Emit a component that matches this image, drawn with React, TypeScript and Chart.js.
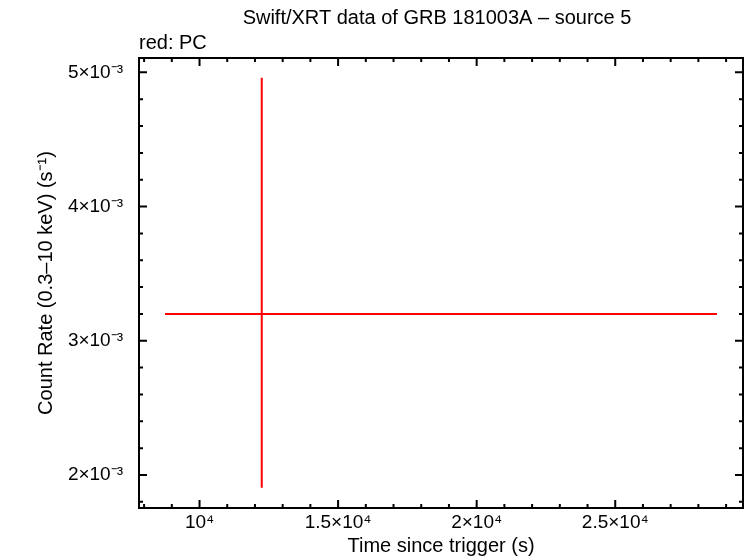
import React, { useEffect, useRef } from 'react';
import { Chart, registerables, Plugin } from 'chart.js';

Chart.register(...registerables);

const FONT = "'Liberation Sans', Arial, Helvetica, sans-serif";

const chartTitle = 'Swift/XRT data of GRB 181003A \u2013 source 5';
const modeLabel = 'red: PC';
const xTitle = 'Time since trigger (s)';
const yTitle = 'Count Rate (0.3\u201310 keV) (s\u207B\u00B9)';

// PC mode bins (time in s since trigger, rate in counts/s)
const times: number[] = [12245];
const timeErrNeg: number[] = [3490];
const timeErrPos: number[] = [16426];
const rates: number[] = [3.199e-3];
const rateErrNeg: number[] = [1.294e-3];
const rateErrPos: number[] = [1.761e-3];

const xMajorTicks: number[] = [10000, 15000, 20000, 25000];
const xTickLabels: string[] = ['10\u2074', '1.5\u00D710\u2074', '2\u00D710\u2074', '2.5\u00D710\u2074'];
const yMajorTicks: number[] = [2e-3, 3e-3, 4e-3, 5e-3];
const yTickLabels: string[] = ['2\u00D710\u207B\u00B3', '3\u00D710\u207B\u00B3', '4\u00D710\u207B\u00B3', '5\u00D710\u207B\u00B3'];

const X_MIN = 7816;
const X_MAX = 29610;
const Y_MIN = 1.754e-3;
const Y_MAX = 5.107e-3;
const X_MINOR = 1000;
const Y_MINOR = 2e-4;

// frame, inward ticks on all four sides, title and mode label
const framePlugin: Plugin = {
  id: 'frame',
  afterDatasetsDraw(chart) {
    const { ctx, chartArea: a, scales } = chart;
    const xs = scales.x;
    const ys = scales.y;
    ctx.save();
    ctx.strokeStyle = '#000';
    ctx.lineWidth = 2;
    ctx.beginPath();
    for (let k = Math.ceil(X_MIN / X_MINOR); k * X_MINOR <= X_MAX; k++) {
      const px = xs.getPixelForValue(k * X_MINOR);
      const len = k % 5 === 0 ? 8 : 4;
      ctx.moveTo(px, a.bottom);
      ctx.lineTo(px, a.bottom - len);
      ctx.moveTo(px, a.top);
      ctx.lineTo(px, a.top + len);
    }
    for (let k = Math.ceil(Y_MIN / Y_MINOR); k * Y_MINOR <= Y_MAX; k++) {
      const py = ys.getPixelForValue(k * Y_MINOR);
      const len = k % 5 === 0 ? 8 : 4;
      ctx.moveTo(a.left, py);
      ctx.lineTo(a.left + len, py);
      ctx.moveTo(a.right, py);
      ctx.lineTo(a.right - len, py);
    }
    ctx.stroke();
    ctx.strokeRect(a.left, a.top, a.right - a.left, a.bottom - a.top);

    ctx.fillStyle = '#000';
    ctx.font = `20px ${FONT}`;
    ctx.textBaseline = 'middle';
    ctx.textAlign = 'center';
    ctx.fillText(chartTitle, (a.left + a.right) / 2 - 4, 18);
    ctx.textAlign = 'left';
    ctx.fillText(modeLabel, a.left, 43);
    ctx.restore();
  },
};

export default function App() {
  const canvasRef = useRef<HTMLCanvasElement | null>(null);

  useEffect(() => {
    if (!canvasRef.current) return;

    const datasets: any[] = [];
    times.forEach((t, i) => {
      const r = rates[i];
      datasets.push({
        data: [
          { x: t - timeErrNeg[i], y: r },
          { x: t + timeErrPos[i], y: r },
        ],
      });
      datasets.push({
        data: [
          { x: t, y: r - rateErrNeg[i] },
          { x: t, y: r + rateErrPos[i] },
        ],
      });
    });
    datasets.forEach((d) => {
      d.showLine = true;
      d.pointRadius = 0;
      d.borderColor = '#ff0000';
      d.borderWidth = 2;
      d.fill = false;
    });

    const chart = new Chart(canvasRef.current, {
      type: 'scatter',
      data: { datasets },
      options: {
        animation: false,
        responsive: true,
        maintainAspectRatio: false,
        layout: { padding: { top: 58, right: 3, left: 0, bottom: 0 } },
        plugins: {
          legend: { display: false },
          tooltip: { enabled: false },
          title: { display: false },
        },
        scales: {
          x: {
            type: 'linear',
            min: X_MIN,
            max: X_MAX,
            grid: { display: false, drawTicks: false },
            border: { display: false },
            afterBuildTicks: (scale: any) => {
              scale.ticks = xMajorTicks.map((v) => ({ value: v }));
            },
            afterFit: (scale: any) => {
              scale.height = 50;
            },
            ticks: {
              autoSkip: false,
              maxRotation: 0,
              padding: 3,
              color: '#000',
              font: { family: FONT, size: 19 },
              callback: (_v: any, i: number) => xTickLabels[i],
            },
            title: {
              display: true,
              text: xTitle,
              color: '#000',
              font: { family: FONT, size: 20 },
              padding: { top: 0, bottom: 0 },
            },
          },
          y: {
            type: 'linear',
            min: Y_MIN,
            max: Y_MAX,
            grid: { display: false, drawTicks: false },
            border: { display: false },
            afterBuildTicks: (scale: any) => {
              scale.ticks = yMajorTicks.map((v) => ({ value: v }));
            },
            afterFit: (scale: any) => {
              scale.width = 139;
            },
            ticks: {
              autoSkip: false,
              padding: 16,
              color: '#000',
              font: { family: FONT, size: 19 },
              callback: (_v: any, i: number) => yTickLabels[i],
            },
            title: {
              display: true,
              text: yTitle,
              color: '#000',
              font: { family: FONT, size: 20 },
              padding: { top: 34, bottom: 0 },
            },
          },
        },
      },
      plugins: [framePlugin],
    });

    return () => {
      chart.destroy();
    };
  }, []);

  return (
    <div style={{ position: 'fixed', left: 0, top: 0, width: 746, height: 558, background: '#fff' }}>
      <canvas ref={canvasRef} />
    </div>
  );
}
